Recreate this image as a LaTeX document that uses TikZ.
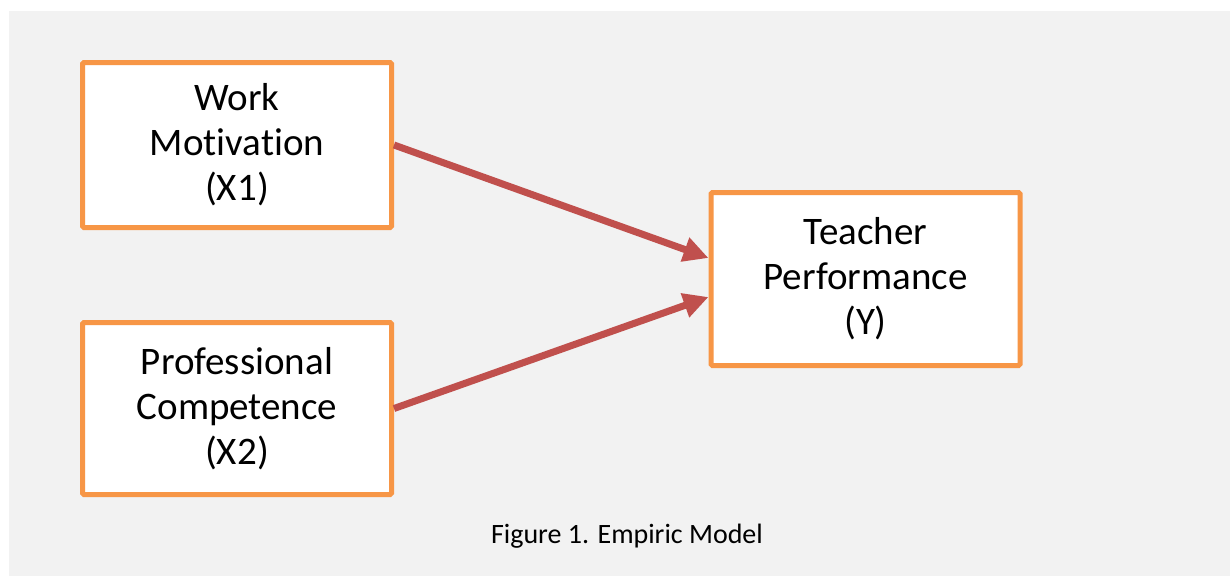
\documentclass[tikz,border=0pt]{standalone}
\usepackage{fontspec}
\setmainfont{Carlito}[Ligatures=NoCommon]
\usetikzlibrary{arrows.meta}
\definecolor{boxorange}{HTML}{F79646}
\definecolor{arrowred}{HTML}{C0504D}
\definecolor{bggray}{HTML}{F2F2F2}
\begin{document}
\begin{tikzpicture}[x=1pt,y=-1pt,
  every node/.style={rectangle,draw=boxorange,line width=5pt,fill=white,rounded corners=1.5pt,
    align=center,font=\fontsize{39}{45}\selectfont,minimum width=309pt},
  link/.style={draw=arrowred,line width=7pt,-{Triangle[length=25pt,width=24pt]}}]
\useasboundingbox (0,0) rectangle (1230,576);
\fill[bggray] (9,11) rectangle (1230,576);

\node[minimum height=165pt] (x1) at (237,145) {Work\\Motivation\\(X1)};
\node[minimum height=172pt] (x2) at (237,408.5) {Professional\\Competence\\(X2)};
\node[minimum height=173pt] (y) at (865.5,279) {Teacher\\Performance\\(Y)};
\node[draw=none,fill=none,minimum width=0pt,font=\fontsize{28}{32}\selectfont] (cap) at (627,536) {Figure 1. Empiric Model};

\foreach \from/\to/\dy in {x1/y/21,x2/y/-18}
\draw[link] (\from.east) -- ([yshift=\dy pt]\to.west);
\end{tikzpicture}
\end{document}
